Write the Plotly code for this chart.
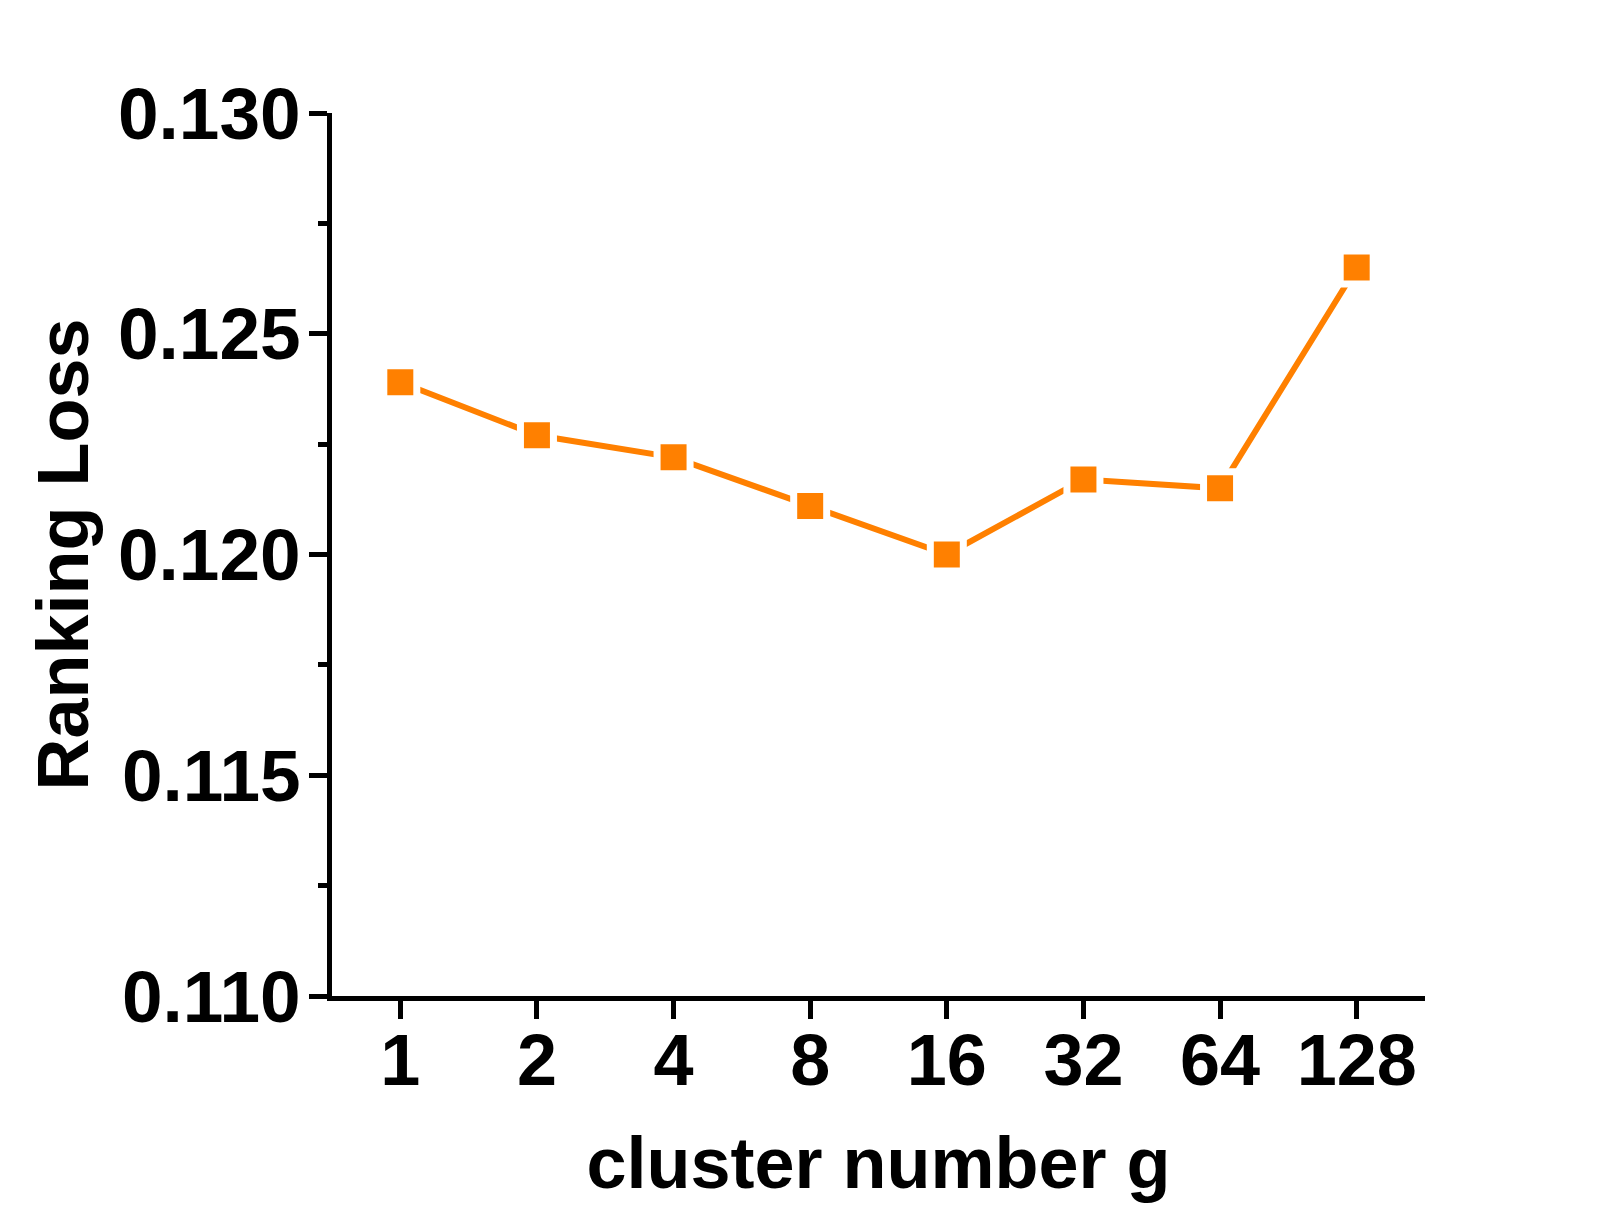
import plotly.graph_objects as go

categories = ["1", "2", "4", "8", "16", "32", "64", "128"]
ranking_loss = [0.1239, 0.1227, 0.1222, 0.1211, 0.1200, 0.1217, 0.1215, 0.1265]
y_ticks = [0.110, 0.115, 0.120, 0.125, 0.130]

ORANGE = "#FF8000"
FONT = "Liberation Sans"

fig = go.Figure()
fig.add_trace(go.Scatter(
    x=list(range(len(categories))),
    y=ranking_loss,
    mode="lines+markers",
    line=dict(color=ORANGE, width=6),
    marker=dict(symbol="square", size=33, color=ORANGE,
                line=dict(color="white", width=7)),
    showlegend=False,
    cliponaxis=False,
))

fig.update_layout(
    width=1609, height=1232,
    margin=dict(l=332, r=184, t=113, b=236),
    paper_bgcolor="white", plot_bgcolor="white",
    font=dict(family=FONT, size=72, color="black", weight="bold"),
)

fig.update_xaxes(
    range=[-0.5, 7.5],
    tickvals=list(range(len(categories))),
    ticktext=categories,
    showgrid=False, zeroline=False,
    showline=True, linecolor="black", linewidth=4.5,
    ticks="outside", ticklen=18, tickwidth=4.5, tickcolor="black",
    ticklabelstandoff=-20,
    tickfont=dict(family=FONT, size=72, color="black", weight="bold"),
    title=dict(text="cluster number g", standoff=40,
               font=dict(family=FONT, size=72, color="black", weight="bold")),
)

fig.update_yaxes(
    range=[0.110, 0.130],
    tickvals=y_ticks,
    tickformat=".3f",
    showgrid=False, zeroline=False,
    showline=True, linecolor="black", linewidth=4.5,
    ticks="outside", ticklen=18, tickwidth=4.5, tickcolor="black",
    ticklabelstandoff=-6,
    minor=dict(ticks="outside", ticklen=9, tickwidth=4.5, tickcolor="black",
               dtick=0.0025, tick0=0.110),
    tickfont=dict(family=FONT, size=73, color="black", weight="bold"),
    title=dict(text="Ranking Loss", standoff=7,
               font=dict(family=FONT, size=72, color="black", weight="bold")),
)

fig.write_html("out.html")
